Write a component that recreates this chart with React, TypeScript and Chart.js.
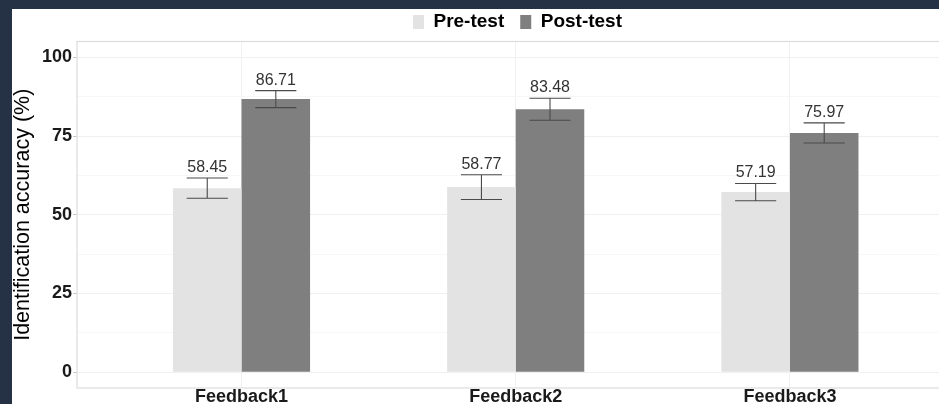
import { useEffect, useRef } from 'react';
import { Chart, registerables } from 'chart.js';

Chart.register(...registerables);

// Data
const categories = ['Feedback1', 'Feedback2', 'Feedback3'];
const seriesNames = ['Pre-test', 'Post-test'];
const preTest = [58.45, 58.77, 57.19];
const postTest = [86.71, 83.48, 75.97];
const preErr = [3.2, 3.95, 2.75];
const postErr = [2.7, 3.5, 3.2];
const yTickValues = [0, 12.5, 25, 37.5, 50, 62.5, 75, 87.5, 100];

const FONT = "'Liberation Sans', Arial, Helvetica, sans-serif";
const CANVAS_W = 1011;
const CANVAS_H = 400;

// Error bars with value labels above them
const errorBarPlugin = {
  id: 'errorBars',
  afterDatasetsDraw(chart: any) {
    const { ctx } = chart;
    const yScale = chart.scales.y;
    chart.data.datasets.forEach((ds: any, di: number) => {
      const meta = chart.getDatasetMeta(di);
      meta.data.forEach((bar: any, j: number) => {
        const v = ds.data[j].y;
        const e = ds.errors[j];
        const yTop = yScale.getPixelForValue(v + e);
        const yBot = yScale.getPixelForValue(v - e);
        const half = (bar.width * 0.6) / 2;
        ctx.save();
        ctx.strokeStyle = '#4a4a4a';
        ctx.lineWidth = 1.1;
        ctx.beginPath();
        ctx.moveTo(bar.x, yTop);
        ctx.lineTo(bar.x, yBot);
        ctx.moveTo(bar.x - half, yTop);
        ctx.lineTo(bar.x + half, yTop);
        ctx.moveTo(bar.x - half, yBot);
        ctx.lineTo(bar.x + half, yBot);
        ctx.stroke();
        ctx.fillStyle = '#333333';
        ctx.font = `16px ${FONT}`;
        ctx.textAlign = 'center';
        ctx.textBaseline = 'alphabetic';
        ctx.fillText(v.toFixed(2), bar.x, yTop - 6);
        ctx.restore();
      });
    });
  },
};

// Light frame around the plotting panel
const panelBorderPlugin = {
  id: 'panelBorder',
  afterDraw(chart: any) {
    const { ctx, chartArea } = chart;
    ctx.save();
    ctx.strokeStyle = '#dcdcdc';
    ctx.lineWidth = 1.2;
    ctx.strokeRect(chartArea.left, chartArea.top, chartArea.right - chartArea.left, chartArea.bottom - chartArea.top);
    ctx.restore();
  },
};

export default function App() {
  const canvasRef = useRef<HTMLCanvasElement>(null);

  useEffect(() => {
    const canvas = canvasRef.current;
    if (!canvas) return;
    const chart = new Chart(canvas, {
      type: 'bar',
      data: {
        datasets: [
          {
            label: seriesNames[0],
            data: preTest.map((v, i) => ({ x: i + 1, y: v })),
            errors: preErr,
            backgroundColor: '#e3e3e3',
            borderWidth: 0,
            categoryPercentage: 0.5,
            barPercentage: 1,
          } as any,
          {
            label: seriesNames[1],
            data: postTest.map((v, i) => ({ x: i + 1, y: v })),
            errors: postErr,
            backgroundColor: '#7f7f7f',
            borderWidth: 0,
            categoryPercentage: 0.5,
            barPercentage: 1,
          } as any,
        ],
      },
      options: {
        responsive: false,
        animation: false,
        devicePixelRatio: 1,
        layout: { padding: { top: -12.5, left: 0, right: 0, bottom: 0 } },
        plugins: {
          tooltip: { enabled: false },
          legend: {
            position: 'top',
            labels: {
              font: { family: FONT, size: 19, weight: 'bold' },
              color: '#000000',
              boxWidth: 11,
              boxHeight: 14,
              padding: 16,
            },
          },
        },
        scales: {
          x: {
            type: 'linear',
            min: 0.4,
            max: 3.85,
            offset: false,
            afterBuildTicks: (scale: any) => {
              scale.ticks = categories.map((_, i) => ({ value: i + 1 }));
            },
            afterFit: (scale: any) => {
              scale.height = 21;
            },
            ticks: {
              autoSkip: false,
              maxRotation: 0,
              padding: 0,
              color: '#1a1a1a',
              font: { family: FONT, size: 18, weight: 'bold', lineHeight: 1 },
              callback: (v: any) => categories[Math.round(v) - 1] ?? '',
            },
            grid: { color: '#f0f0f0', drawTicks: false, offset: false },
            border: { display: false },
          },
          y: {
            min: -5,
            max: 105,
            afterBuildTicks: (scale: any) => {
              scale.ticks = yTickValues.map((v) => ({ value: v }));
            },
            afterFit: (scale: any) => {
              scale.width = 65;
            },
            ticks: {
              autoSkip: false,
              padding: 1,
              color: '#1a1a1a',
              font: { family: FONT, size: 18, weight: 'bold' },
              callback: (v: any) => (v % 25 === 0 ? String(v) : ''),
            },
            grid: {
              color: (c: any) => (c.tick && c.tick.value % 25 === 0 ? '#f0f0f0' : '#f7f7f7'),
              tickColor: (c: any) => (c.tick && c.tick.value % 25 === 0 ? '#c8c8c8' : 'rgba(0,0,0,0)'),
              tickLength: 4,
            },
            border: { display: false },
            title: {
              display: true,
              text: 'Identification accuracy (%)',
              color: '#000000',
              padding: { top: 0, bottom: 0 },
              font: { family: FONT, size: 21.5, weight: 'normal', lineHeight: 1.05 },
            },
          },
        },
      } as any,
      plugins: [errorBarPlugin, panelBorderPlugin],
    });
    return () => chart.destroy();
  }, []);

  return (
    <div
      style={{
        position: 'fixed',
        left: 0,
        top: 0,
        width: 939,
        height: 404,
        overflow: 'hidden',
        background: '#253246',
      }}
    >
      <div
        style={{
          position: 'absolute',
          left: 12,
          top: 9,
          width: CANVAS_W,
          height: CANVAS_H,
          background: '#ffffff',
        }}
      >
        <canvas
          ref={canvasRef}
          width={CANVAS_W}
          height={CANVAS_H}
          style={{ display: 'block', width: CANVAS_W, height: CANVAS_H }}
        />
      </div>
    </div>
  );
}
